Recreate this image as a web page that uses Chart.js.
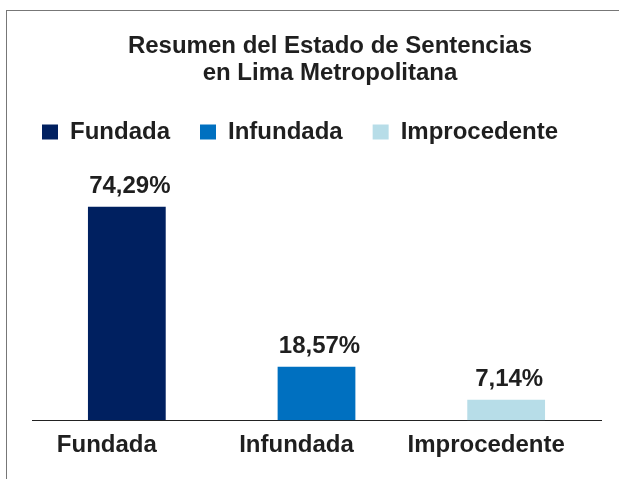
<!DOCTYPE html>
<html>
<head>
<meta charset="utf-8">
<script src="https://cdn.jsdelivr.net/npm/chart.js@4.4.1/dist/chart.umd.min.js"></script>
<style>
    body { margin: 0; overflow: hidden; background: #fff; }
    #frame {
        position: absolute; left: 6px; top: 10px; width: 700px; height: 520px;
        border-left: 1px solid #777; border-top: 1px solid #777;
    }
    #c { display: block; }
</style>
</head>
<body>
<div id="frame"><canvas id="c" width="653" height="468"></canvas></div>
<script>
// datos del grafico
const titleLines = ['Resumen del Estado de Sentencias', 'en Lima Metropolitana'];
const categorias = ['Fundada', 'Infundada', 'Improcedente'];
const porcentajes = [74.29, 18.57, 7.14];
const colores = ['#002060', '#0070c0', '#b7dde8'];

const fontFam = '"Liberation Sans", Arial, Helvetica, sans-serif';
const textColor = '#1f1f1f';

// etiquetas de valor encima de cada barra
const valueLabels = {
    id: 'valueLabels',
    afterDatasetsDraw(chart) {
        const ctx = chart.ctx;
        ctx.save();
        ctx.font = 'bold 24px ' + fontFam;
        ctx.fillStyle = textColor;
        ctx.textAlign = 'center';
        ctx.textBaseline = 'middle';
        chart.data.datasets.forEach((ds, i) => {
            const meta = chart.getDatasetMeta(i);
            meta.data.forEach((bar, j) => {
                if (ds.data[j] == null) return;
                let txt = ds.data[j].toFixed(2).replace('.', ',') + '%';
                ctx.fillText(txt, bar.x + 3, bar.y - 20);
            });
        });
        ctx.restore();
    }
};

// one dataset per category so the legend shows all three
let datasets = categorias.map((cat, i) => {
    return {
        label: cat,
        data: categorias.map((c, j) => (j == i ? porcentajes[i] : null)),
        backgroundColor: colores[i],
        borderWidth: 0,
        skipNull: true,
        grouped: false,
        categoryPercentage: 1,
        barPercentage: 0.41
    }
});

new Chart(document.getElementById('c'), {
    type: 'bar',
    data: {
        labels: categorias,
        datasets: datasets
    },
    options: {
        responsive: false,
        devicePixelRatio: 1,
        animation: false,
        layout: { padding: { top: 0, left: 5, right: 12, bottom: 8 } },
        plugins: {
            title: {
                display: true,
                text: titleLines,
                color: textColor,
                font: { family: fontFam, size: 24, weight: 'bold', lineHeight: 27 / 24 },
                padding: { top: 22, bottom: 3 }
            },
            legend: {
                display: true,
                align: 'start',
                labels: {
                    color: textColor,
                    font: { family: fontFam, size: 24, weight: 'bold' },
                    boxWidth: 16,
                    boxHeight: 15,
                    padding: 30
                }
            },
            tooltip: { enabled: false }
        },
        scales: {
            x: {
                grid: { display: false, drawTicks: false },
                border: { display: true, color: '#222', width: 1 },
                ticks: {
                    color: textColor,
                    padding: 11,
                    labelOffset: -20,
                    font: { family: fontFam, size: 24, weight: 'bold' }
                }
            },
            y: {
                min: 0,
                max: 92.6,
                grid: { display: false, drawTicks: false },
                border: { display: false },
                ticks: { display: false },
                afterFit: (scale) => { scale.width = 20; }
            },
            yRight: {
                type: 'linear',
                position: 'right',
                grid: { display: false, drawTicks: false },
                border: { display: false },
                ticks: { display: false },
                afterFit: (scale) => { scale.width = 47; }
            }
        }
    },
    plugins: [valueLabels]
});
</script>
</body>
</html>
